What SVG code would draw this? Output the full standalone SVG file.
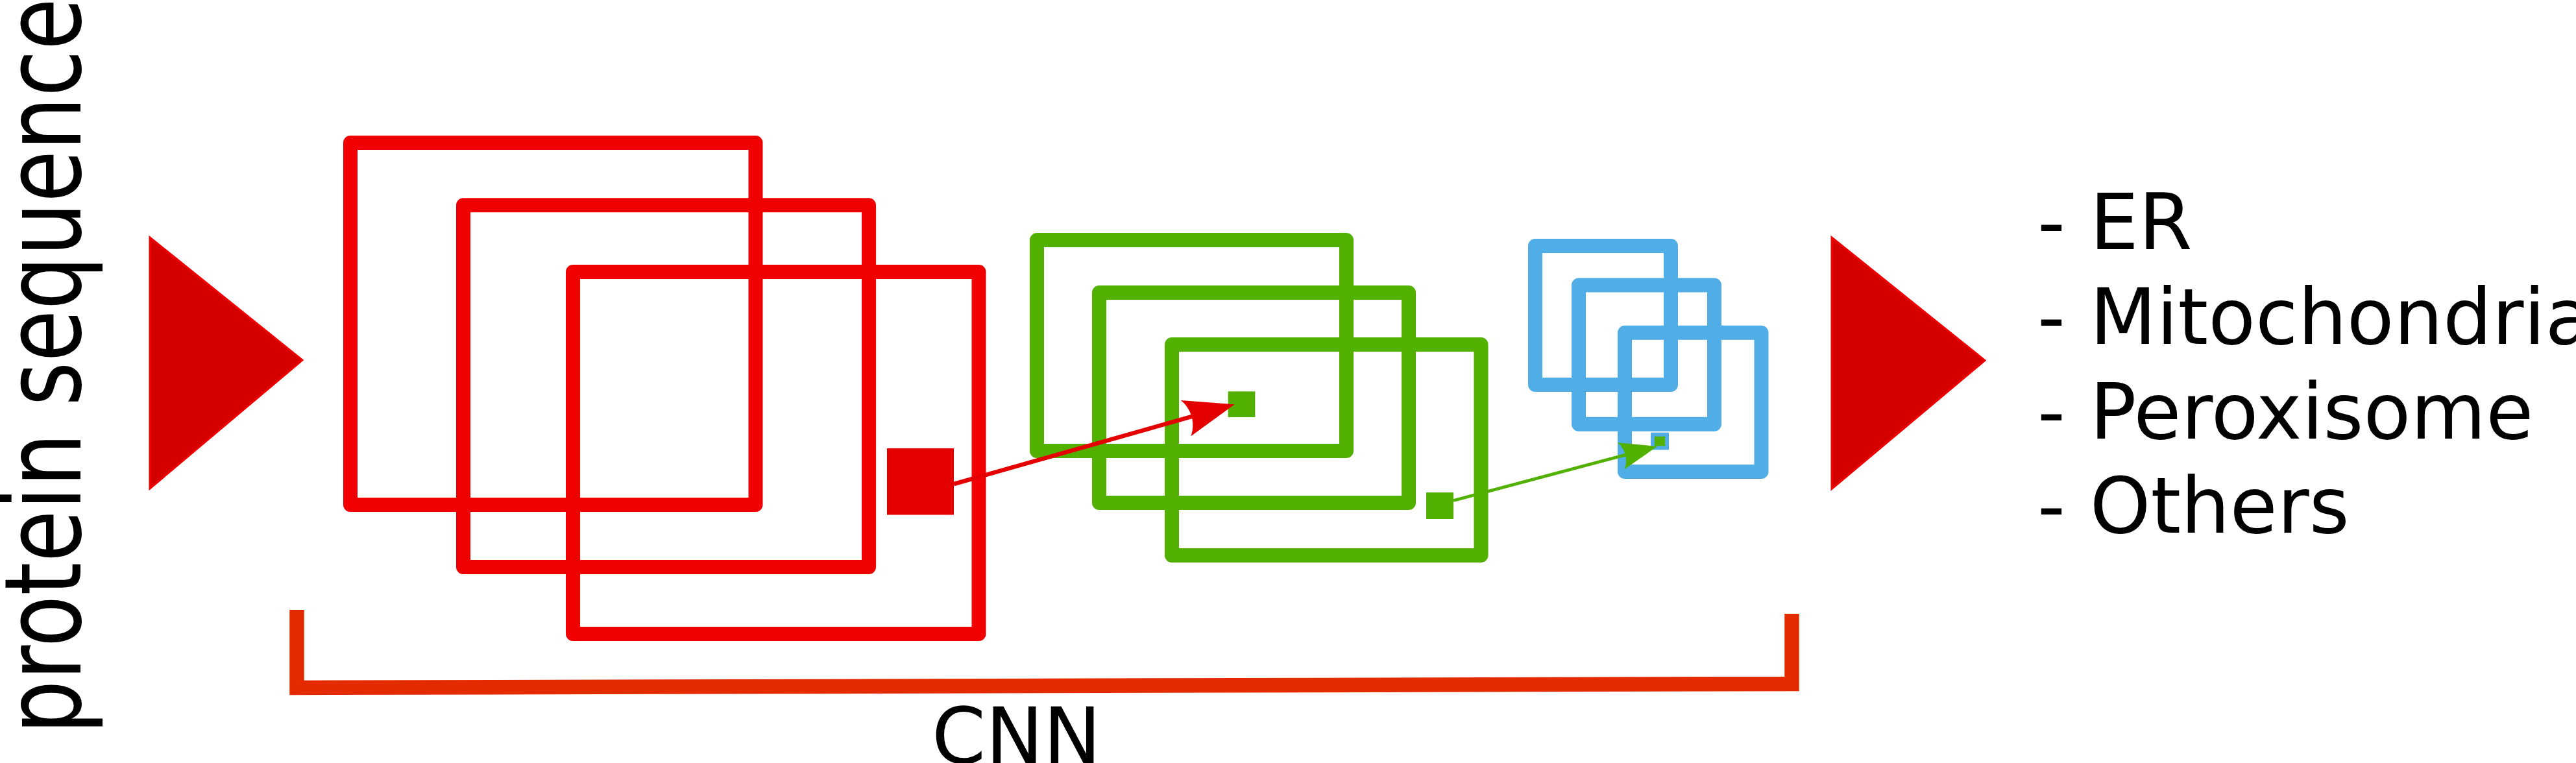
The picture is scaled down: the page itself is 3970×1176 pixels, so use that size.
<svg xmlns="http://www.w3.org/2000/svg" width="3970" height="1176" viewBox="0 0 3970 1176">
<style>
  text { font-family: "DejaVu Sans", "Liberation Sans", sans-serif; fill: #000; }
  .lbl { font-size: 119px; }
  .tri { fill: #d40000; stroke: #f00000; stroke-width: 3; stroke-linejoin: miter; }
  .fm { fill: none; stroke-width: 22; stroke-linejoin: round; }
  .red { stroke: #f00000; }
  .grn { stroke: #52b000; }
  .blu { stroke: #50ade5; }
  .bracket { fill: none; stroke: #e42b00; stroke-width: 22.5; stroke-linejoin: miter; stroke-linecap: butt; }
</style>
<defs>
  <marker id="headR" markerUnits="strokeWidth" orient="auto" refX="0" refY="0" markerWidth="1" markerHeight="1" style="overflow:visible">
    <path d="M1.33,0 L-10.69,-4.43 C-8.77,-1.79 -8.78,1.78 -10.69,4.43 Z" fill="#e50000"/>
  </marker>
  <marker id="headG" markerUnits="strokeWidth" orient="auto" refX="0" refY="0" markerWidth="1" markerHeight="1" style="overflow:visible">
    <path d="M1.33,0 L-10.69,-4.43 C-8.77,-1.79 -8.78,1.78 -10.69,4.43 Z" fill="#52b000"/>
  </marker>
</defs>
<rect width="3970" height="1176" fill="#ffffff"/>

<g id="input-label">
  <text font-size="130.5" transform="translate(124.4,1131.2) rotate(-90) scale(1,1.257)" x="0" y="0">protein sequence</text>
</g>

<g id="input-arrow">
  <polygon class="tri" points="231,366 466,555 231,753"/>
</g>

<g id="conv-layer-1">
  <rect class="fm red" x="540" y="220" width="624.5" height="558"/>
  <rect class="fm red" x="714" y="316.3" width="625" height="557.7"/>
  <rect class="fm red" x="883" y="419" width="625.5" height="558"/>
  <rect x="1367" y="691" width="103" height="102.5" fill="#e50000"/>
</g>

<g id="conv-layer-2">
  <rect class="fm grn" x="1598" y="370" width="477" height="325"/>
  <rect class="fm grn" x="1694" y="451" width="477" height="324"/>
  <rect class="fm grn" x="1806" y="531" width="476.5" height="325"/>
  <rect x="1892.7" y="603.3" width="41.6" height="39.7" fill="#52b000"/>
  <rect x="2198" y="759" width="42" height="41" fill="#52b000"/>
</g>

<g id="conv-layer-3">
  <rect class="fm blu" x="2366" y="379" width="209" height="214"/>
  <rect class="fm blu" x="2433" y="439.6" width="209" height="214.1"/>
  <rect class="fm blu" x="2504" y="512.7" width="210.5" height="214.3"/>
  <rect x="2547" y="669.7" width="22" height="20.6" fill="#52b000" stroke="#50ade5" stroke-width="6"/>
</g>

<g id="connectors">
  <line x1="1470" y1="746" x2="1894.4" y2="625.7" stroke="#e50000" stroke-width="6.5" marker-end="url(#headR)"/>
  <line x1="2240" y1="771.5" x2="2547.8" y2="689.6" stroke="#52b000" stroke-width="4.8" marker-end="url(#headG)"/>
</g>

<g id="cnn-bracket">
  <path class="bracket" d="M457.5,940 L457.5,1060 L2761.5,1054 L2761.5,946"/>
  <text class="lbl" x="1436" y="1176">CNN</text>
</g>

<g id="output-arrow">
  <polygon class="tri" points="2823,366 3059,555.5 2823,753.5"/>
</g>

<g id="output-labels">
  <text class="lbl" x="3140" y="384.3">- ER</text>
  <text class="lbl" x="3140" y="530">- Mitochondria</text>
  <text class="lbl" x="3140" y="675.7">- Peroxisome</text>
  <text class="lbl" x="3140" y="821.4">- Others</text>
</g>
</svg>
